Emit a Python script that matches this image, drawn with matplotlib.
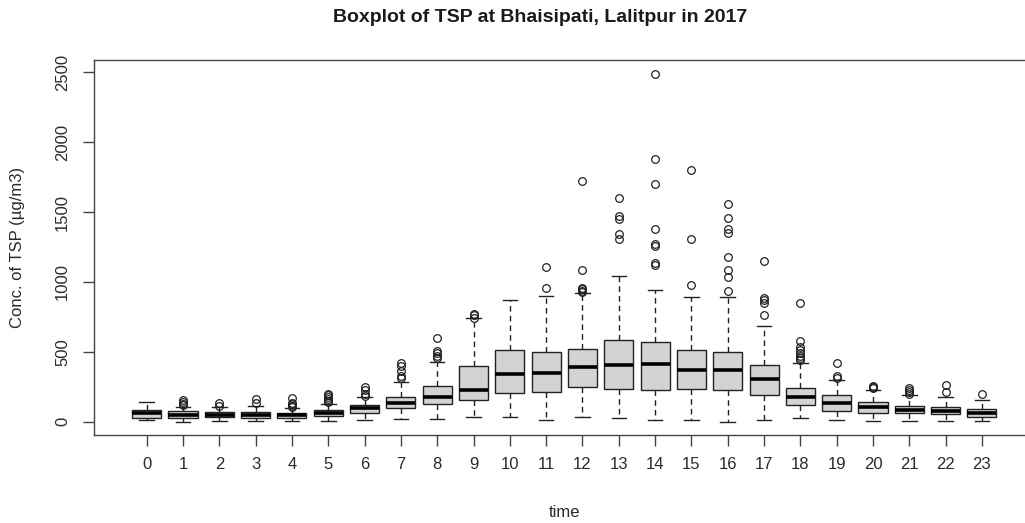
import matplotlib
matplotlib.use("Agg")
import matplotlib.pyplot as plt

plt.rcParams['font.family'] = ['Liberation Sans', 'DejaVu Sans']

hours = list(range(24))
whislo = [12, 0, 5, 3, 5, 8, 10, 17, 17, 36, 36, 12, 36, 29, 12, 12, 0, 12, 24, 12, 8, 5, 5, 5]
q1 = [29, 24, 31, 24, 26, 43, 60, 96, 125, 156, 205, 215, 245, 235, 228, 232, 228, 190, 119, 79, 65, 60, 53, 36]
med = [60, 50, 50, 45, 48, 65, 95, 130, 180, 230, 340, 345, 390, 405, 412, 370, 370, 305, 179, 131, 107, 84, 79, 65]
q3 = [84, 77, 72, 67, 60, 84, 120, 175, 255, 395, 515, 495, 522, 582, 570, 515, 495, 405, 243, 191, 143, 115, 107, 91]
whishi = [139, 103, 103, 112, 95, 127, 175, 285, 430, 740, 870, 900, 920, 1045, 945, 890, 890, 685, 422, 298, 227, 191, 179, 155]
fliers = [
    [],
    [118, 128, 140, 155],
    [115, 130],
    [135, 165],
    [105, 115, 125, 135, 170],
    [140, 150, 160, 175, 190, 200],
    [185, 200, 225, 245],
    [310, 330, 365, 395, 420],
    [455, 470, 490, 505, 600],
    [745, 760, 770],
    [],
    [960, 1105],
    [925, 935, 950, 960, 1085, 1720],
    [1310, 1340, 1450, 1475, 1600],
    [1120, 1135, 1255, 1270, 1380, 1700, 1880, 2485],
    [975, 1305, 1800],
    [935, 1035, 1085, 1180, 1350, 1380, 1460, 1560],
    [760, 850, 870, 885, 1150],
    [440, 455, 470, 490, 510, 535, 580, 850],
    [310, 330, 420],
    [240, 250, 258],
    [200, 215, 225, 240],
    [215, 265],
    [195],
]

stats = []
for i in range(len(hours)):
    stats.append(dict(whislo=whislo[i], q1=q1[i], med=med[i], q3=q3[i],
                      whishi=whishi[i], fliers=fliers[i], label=str(hours[i])))

txt = '#2b2b2b'
fig = plt.figure(figsize=(10.25, 5.23), dpi=100)
ax = fig.add_axes([0.0914, 0.1692, 0.9183, 0.716])

ax.bxp(stats, positions=hours, widths=0.8, patch_artist=True,
       boxprops=dict(facecolor='#d3d3d3', edgecolor='#222222', linewidth=1.0),
       medianprops=dict(color='black', linewidth=2.6, solid_capstyle='butt'),
       whiskerprops=dict(color='#222222', linewidth=1.0, linestyle=(0, (4, 3))),
       capprops=dict(color='#222222', linewidth=1.0),
       capwidths=0.4,
       flierprops=dict(marker='o', markerfacecolor='none', markeredgecolor='#222222',
                       markersize=5.5, markeredgewidth=0.9, linestyle='none'))

ax.set_xlim(-1.46, 24.46)
ax.set_ylim(-92, 2588)
ax.set_xticks(hours)
ax.set_xticklabels([str(h) for h in hours])
ax.set_yticks([0, 500, 1000, 1500, 2000, 2500])
ax.set_yticklabels(['0', '500', '1000', '1500', '2000', '2500'], rotation=90, va='center')

for s in ['left', 'bottom', 'top', 'right']:
    ax.spines[s].set_color('#444444')
    ax.spines[s].set_linewidth(1.0)

ax.tick_params(axis='both', direction='out', length=8, width=1.0, color='#444444',
               labelsize=12, labelcolor=txt)
ax.tick_params(axis='x', pad=8)
ax.tick_params(axis='y', pad=9)

ax.set_xlabel('time', fontsize=12, color=txt, labelpad=24)
ax.set_ylabel('Conc. of TSP (µg/m3)', fontsize=12, color=txt, labelpad=22)

fig.text(540 / 1025, 1 - 18 / 523, 'Boxplot of TSP at Bhaisipati, Lalitpur in 2017',
         ha='center', va='center', fontsize=14, fontweight='bold', color='#1a1a1a')

fig.savefig('out.png', dpi=100)
